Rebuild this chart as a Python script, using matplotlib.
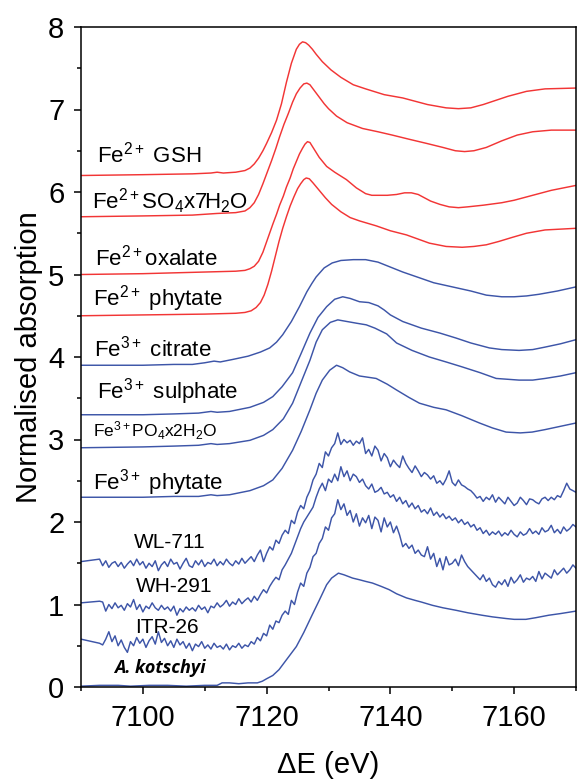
import numpy as np
import matplotlib
matplotlib.use("Agg")
import matplotlib.pyplot as plt
from matplotlib.ticker import MultipleLocator

plt.rcParams['font.family'] = ['Liberation Sans', 'DejaVu Sans']
plt.rcParams['mathtext.fontset'] = 'custom'
plt.rcParams['mathtext.rm'] = 'Liberation Sans'
plt.rcParams['mathtext.it'] = 'Liberation Sans:italic'
plt.rcParams['mathtext.default'] = 'regular'

RED = '#f23535'
BLUE = '#3d55a8'

# ---------------- smooth reference spectra ----------------
gsh_x = [7090, 7100, 7108, 7111, 7112, 7113, 7115, 7116.5, 7117.3, 7118, 7118.7, 7119.4, 7120, 7120.8, 7121.6,
         7122.4, 7123.2, 7124, 7124.8, 7125.3, 7125.8, 7126.3, 7126.8, 7127.4, 7128, 7129, 7130.4, 7132, 7134,
         7136, 7139, 7142, 7146, 7149, 7151, 7153, 7155, 7157, 7159, 7162, 7165, 7170]
gsh_y = [6.20, 6.21, 6.22, 6.23, 6.24, 6.23, 6.24, 6.26, 6.29, 6.34, 6.41, 6.50, 6.59, 6.72, 6.87,
         7.07, 7.33, 7.56, 7.73, 7.79, 7.82, 7.81, 7.78, 7.73, 7.67, 7.58, 7.48, 7.39, 7.30,
         7.25, 7.18, 7.14, 7.06, 7.02, 7.01, 7.02, 7.06, 7.11, 7.16, 7.22, 7.25, 7.26]

so4_x = [7090, 7100, 7108, 7112, 7115, 7116.5, 7117.3, 7118, 7118.7, 7119.4, 7120.1, 7120.8, 7121.5, 7122.1,
         7122.8, 7123.5, 7124.2, 7124.8, 7125.4, 7126, 7126.5, 7127, 7127.6, 7128.5, 7129.3, 7130, 7131.3,
         7133, 7135.5, 7138, 7140.3, 7143, 7145.8, 7148.5, 7150.5, 7152, 7153.5, 7155.5, 7158, 7160.5,
         7163, 7166, 7170]
so4_y = [5.70, 5.71, 5.72, 5.74, 5.75, 5.77, 5.81, 5.87, 5.97, 6.10, 6.24, 6.38, 6.53, 6.67,
         6.82, 6.95, 7.09, 7.19, 7.26, 7.31, 7.32, 7.30, 7.24, 7.15, 7.07, 7.01, 6.92,
         6.84, 6.77, 6.73, 6.69, 6.64, 6.59, 6.54, 6.50, 6.49, 6.50, 6.54, 6.62, 6.69,
         6.73, 6.75, 6.75]

oxa_x = [7090, 7100, 7110, 7115, 7116.5, 7117.3, 7118, 7118.7, 7119.4, 7120.2, 7121, 7121.6, 7122.1, 7122.7,
         7123.2, 7123.8, 7124.3, 7124.8, 7125.3, 7125.8, 7126.2, 7126.6, 7127, 7127.5, 7128.5, 7129.7, 7131,
         7132.9, 7134.5, 7136, 7137, 7138, 7139.5, 7141, 7142.3, 7143.4, 7144.5, 7145.5, 7146.5, 7148,
         7149.5, 7151, 7152.5, 7155, 7158, 7160, 7163, 7166, 7170]
oxa_y = [5.00, 5.01, 5.03, 5.04, 5.05, 5.07, 5.10, 5.16, 5.27, 5.44, 5.61, 5.73, 5.84, 5.95,
         6.06, 6.17, 6.28, 6.37, 6.46, 6.53, 6.58, 6.61, 6.60, 6.54, 6.42, 6.31, 6.24,
         6.15, 6.05, 5.98, 5.96, 5.96, 5.96, 5.97, 5.99, 5.99, 5.97, 5.93, 5.89, 5.85,
         5.82, 5.81, 5.82, 5.84, 5.87, 5.90, 5.96, 6.02, 6.08]

phy2_x = [7090, 7100, 7110, 7115, 7116.5, 7117.5, 7118.3, 7119, 7119.6, 7120.2, 7120.8, 7121.4, 7122, 7122.6,
          7123.2, 7123.8, 7124.4, 7125, 7125.5, 7126, 7126.4, 7126.9, 7127.5, 7128.5, 7129.5, 7130.5, 7132,
          7133.5, 7135, 7137.7, 7140, 7142.6, 7146.3, 7149, 7151.6, 7153.5, 7155.5, 7157.5, 7159.7, 7162,
          7165, 7170]
phy2_y = [4.50, 4.51, 4.52, 4.53, 4.54, 4.56, 4.60, 4.66, 4.75, 4.88, 5.04, 5.22, 5.40, 5.56,
          5.70, 5.83, 5.94, 6.04, 6.10, 6.15, 6.17, 6.16, 6.11, 6.02, 5.93, 5.85, 5.76,
          5.69, 5.65, 5.59, 5.53, 5.48, 5.38, 5.34, 5.33, 5.34, 5.36, 5.40, 5.45, 5.50,
          5.54, 5.56]

cit_x = [7090, 7100, 7105, 7108, 7110, 7111.5, 7112.5, 7114.5, 7117, 7119, 7120.5, 7121.6, 7122.6, 7124,
         7125.3, 7126.5, 7127.3, 7128, 7129.3, 7130.6, 7132, 7134, 7136, 7138, 7140, 7142, 7144.7, 7147,
         7150, 7153, 7155.5, 7158, 7160, 7162, 7164, 7167, 7170]
cit_y = [3.90, 3.90, 3.91, 3.91, 3.93, 3.95, 3.94, 3.97, 4.01, 4.06, 4.11, 4.18, 4.27, 4.43,
         4.61, 4.79, 4.89, 4.97, 5.08, 5.14, 5.17, 5.18, 5.18, 5.15, 5.09, 5.03, 4.96, 4.90,
         4.85, 4.80, 4.75, 4.73, 4.73, 4.74, 4.76, 4.80, 4.85]

sul_x = [7090, 7100, 7105, 7109, 7111, 7112, 7114, 7117.3, 7119.5, 7121, 7122.5, 7124.2, 7125.5, 7127,
         7128.3, 7129.7, 7131, 7132.3, 7133.5, 7135, 7136.5, 7138, 7139, 7140, 7142, 7145, 7148, 7150.6,
         7153, 7156, 7158, 7160.8, 7163, 7165, 7167.5, 7170]
sul_y = [3.30, 3.30, 3.31, 3.32, 3.34, 3.33, 3.34, 3.39, 3.45, 3.52, 3.64, 3.81, 4.03, 4.29,
         4.48, 4.61, 4.70, 4.73, 4.71, 4.67, 4.66, 4.62, 4.57, 4.51, 4.43, 4.35, 4.29, 4.23,
         4.17, 4.11, 4.09, 4.08, 4.09, 4.12, 4.16, 4.21]

po4_x = [7090, 7100, 7105, 7109, 7111, 7112, 7114, 7117.3, 7119.5, 7121, 7122.7, 7124.2, 7125.6, 7127,
         7128, 7129, 7130.3, 7131.5, 7133, 7134.5, 7136.1, 7137.5, 7139.4, 7141, 7143.5, 7146.3, 7149,
         7151.6, 7154.5, 7157.1, 7160.8, 7163, 7165, 7167.5, 7170]
po4_y = [2.90, 2.91, 2.92, 2.93, 2.95, 2.94, 2.95, 2.99, 3.05, 3.12, 3.25, 3.44, 3.70, 3.96,
         4.18, 4.33, 4.42, 4.45, 4.43, 4.41, 4.39, 4.35, 4.28, 4.17, 4.08, 4.00, 3.94,
         3.88, 3.81, 3.74, 3.72, 3.72, 3.74, 3.77, 3.81]

phy3_x = [7090, 7100, 7105, 7109, 7111, 7112, 7114, 7117.3, 7119.5, 7121, 7122.5, 7124.2, 7125.6, 7127,
          7128, 7129, 7130.2, 7131.3, 7132.3, 7133.4, 7135, 7137.7, 7139.5, 7141, 7143, 7144.7, 7147,
          7149, 7151.5, 7154.4, 7156.5, 7158.7, 7161, 7162.9, 7165, 7167.5, 7170]
phy3_y = [2.30, 2.30, 2.31, 2.31, 2.33, 2.32, 2.33, 2.38, 2.44, 2.51, 2.65, 2.87, 3.10, 3.36,
          3.56, 3.72, 3.84, 3.90, 3.87, 3.82, 3.77, 3.74, 3.67, 3.60, 3.51, 3.44, 3.39,
          3.36, 3.29, 3.20, 3.14, 3.09, 3.08, 3.09, 3.12, 3.16, 3.20]

kot_x = [7090, 7093, 7096, 7098, 7101, 7104, 7107, 7110, 7112, 7112.8, 7114, 7115.5, 7117, 7118.5, 7119.3,
         7120, 7121, 7122, 7123, 7124, 7124.8, 7126, 7127.4, 7128.5, 7129.7, 7130.5, 7131.6, 7132.5,
         7133.9, 7135, 7136, 7137.1, 7138.5, 7139.8, 7141, 7142.6, 7144, 7145, 7146.8, 7148.5, 7150.6,
         7152.5, 7154.8, 7156.5, 7158.7, 7160, 7161.9, 7163.5, 7165.6, 7167.5, 7170]
kot_y = [0.01, 0.02, 0.02, 0.01, 0.02, 0.02, 0.01, 0.02, 0.02, 0.05, 0.05, 0.04, 0.05, 0.05, 0.07,
         0.10, 0.14, 0.21, 0.31, 0.41, 0.49, 0.66, 0.88, 1.05, 1.24, 1.32, 1.38, 1.36,
         1.32, 1.30, 1.28, 1.26, 1.22, 1.18, 1.13, 1.08, 1.05, 1.03, 0.99, 0.96, 0.93,
         0.90, 0.87, 0.85, 0.83, 0.82, 0.82, 0.84, 0.87, 0.89, 0.92]

# ---------------- noisy sample spectra (0.5 eV grid from 7093 eV) ----------------
noisy_start = 7093.0
noisy_step = 0.5
wl_first = 1.52
wl_y = [1.55, 1.47, 1.53, 1.45, 1.50, 1.52, 1.46, 1.51, 1.44, 1.49,
        1.53, 1.47, 1.55, 1.48, 1.52, 1.44, 1.50, 1.46, 1.53, 1.41,
        1.48, 1.52, 1.46, 1.55, 1.49, 1.51, 1.43, 1.50, 1.56, 1.47,
        1.45, 1.53, 1.48, 1.54, 1.46, 1.51, 1.49, 1.55, 1.47, 1.52,
        1.48, 1.55, 1.50, 1.47, 1.53, 1.49, 1.56, 1.50, 1.54, 1.58,
        1.52, 1.60, 1.66, 1.52, 1.62, 1.70, 1.66, 1.78, 1.74, 1.84,
        1.90, 1.86, 2.02, 1.98, 2.12, 2.20, 2.16, 2.30, 2.38, 2.51,
        2.58, 2.71, 2.66, 2.85, 2.80, 2.90, 2.95, 3.08, 2.94, 3.00,
        2.96, 2.99, 2.93, 2.98, 2.95, 3.02, 2.83, 2.88, 2.80, 2.92,
        2.87, 2.74, 2.83, 2.78, 2.67, 2.75, 2.70, 2.66, 2.80, 2.71,
        2.65, 2.60, 2.68, 2.62, 2.55, 2.60, 2.57, 2.52, 2.56, 2.47,
        2.50, 2.45, 2.52, 2.62, 2.48, 2.44, 2.51, 2.45, 2.43, 2.40,
        2.38, 2.34, 2.29, 2.31, 2.25, 2.30, 2.27, 2.33, 2.24, 2.30,
        2.26, 2.22, 2.30, 2.25, 2.20, 2.23, 2.30, 2.26, 2.21, 2.28,
        2.27, 2.24, 2.22, 2.28, 2.30, 2.26, 2.30, 2.27, 2.32, 2.30,
        2.38, 2.47, 2.40, 2.38, 2.36]

wh_first = 1.02
wh_y = [1.04, 1.03, 0.92, 1.00, 0.95, 1.02, 0.96, 0.99, 0.93, 1.01,
        0.97, 1.06, 0.94, 1.00, 0.91, 0.98, 0.95, 1.02, 0.96, 0.93,
        0.99, 0.94, 0.97, 0.92, 0.98, 0.87, 0.95, 0.91, 0.97, 0.93,
        0.96, 0.92, 0.99, 0.94, 0.97, 0.90, 0.98, 0.96, 1.02, 0.97,
        1.00, 1.05, 0.98, 1.03, 1.00, 1.07, 1.01, 1.05, 1.08, 1.03,
        1.10, 1.05, 1.12, 1.18, 1.14, 1.22, 1.28, 1.33, 1.30, 1.42,
        1.48, 1.55, 1.62, 1.72, 1.82, 1.92, 2.00, 2.06, 2.12, 2.18,
        2.30, 2.40, 2.47, 2.38, 2.52, 2.48, 2.58, 2.50, 2.67, 2.55,
        2.62, 2.50, 2.58, 2.55, 2.48, 2.52, 2.44, 2.40, 2.46, 2.36,
        2.38, 2.42, 2.34, 2.36, 2.30, 2.33, 2.25, 2.30, 2.22, 2.26,
        2.18, 2.23, 2.16, 2.20, 2.12, 2.15, 2.10, 2.17, 2.08, 2.12,
        2.06, 2.10, 2.04, 2.07, 2.02, 2.05, 1.99, 2.03, 1.97, 2.00,
        1.94, 1.97, 1.90, 1.93, 1.86, 1.90, 1.84, 1.88, 1.85, 1.89,
        1.83, 1.87, 1.84, 1.90, 1.85, 1.82, 1.88, 1.84, 1.86, 1.92,
        1.86, 1.89, 1.85, 1.93, 1.88, 1.90, 1.96, 1.87, 1.91, 1.86,
        1.94, 1.89, 1.92, 1.97, 1.94]

itr_first = 0.58
itr_y = [0.53, 0.51, 0.58, 0.67, 0.55, 0.62, 0.50, 0.57, 0.48, 0.42,
         0.55, 0.50, 0.60, 0.53, 0.58, 0.48, 0.56, 0.61, 0.52, 0.67,
         0.54, 0.59, 0.50, 0.56, 0.48, 0.58, 0.51, 0.55, 0.47, 0.53,
         0.44, 0.52, 0.49, 0.55, 0.47, 0.51, 0.46, 0.53, 0.48, 0.50,
         0.46, 0.52, 0.45, 0.50, 0.48, 0.53, 0.47, 0.51, 0.49, 0.55,
         0.52, 0.60, 0.56, 0.65, 0.62, 0.75, 0.70, 0.80, 0.78, 0.87,
         0.92, 0.88, 1.05, 1.00, 1.15, 1.26, 1.22, 1.38, 1.45, 1.58,
         1.62, 1.74, 1.80, 1.94, 1.90, 2.05, 2.10, 2.27, 2.15, 2.22,
         2.08, 2.14, 2.00, 2.10, 1.95, 2.05, 1.99, 2.08, 1.92, 2.06,
         2.02, 1.88, 2.05, 1.94, 2.00, 1.87, 1.95, 1.84, 1.70, 1.74,
         1.68, 1.72, 1.62, 1.66, 1.60, 1.58, 1.70, 1.55, 1.62, 1.46,
         1.56, 1.42, 1.58, 1.48, 1.50, 1.55, 1.47, 1.60, 1.52, 1.46,
         1.42, 1.38, 1.34, 1.30, 1.36, 1.28, 1.32, 1.24, 1.21, 1.28,
         1.24, 1.30, 1.22, 1.33, 1.26, 1.30, 1.36, 1.27, 1.32, 1.30,
         1.34, 1.28, 1.40, 1.31, 1.38, 1.35, 1.32, 1.42, 1.36, 1.40,
         1.44, 1.38, 1.42, 1.48, 1.44]

fig = plt.figure(figsize=(5.77, 7.84), dpi=100)
ax = fig.add_axes([81/577, 1 - 687/784, 495/577, 660/784])

lw = 1.05
for xs, ys in [(gsh_x, gsh_y), (so4_x, so4_y), (oxa_x, oxa_y), (phy2_x, phy2_y)]:
    ax.plot(xs, ys, color=RED, lw=lw)
for xs, ys in [(cit_x, cit_y), (sul_x, sul_y), (po4_x, po4_y), (phy3_x, phy3_y), (kot_x, kot_y)]:
    ax.plot(xs, ys, color=BLUE, lw=lw)

grid = noisy_start + noisy_step * np.arange(len(wl_y))
for first, ys in [(wl_first, wl_y), (wh_first, wh_y), (itr_first, itr_y)]:
    ax.plot(np.concatenate([[7090], grid]), np.concatenate([[first], ys]), color=BLUE, lw=lw)

ax.set_xlim(7090, 7170)
ax.set_ylim(0, 8)
ax.xaxis.set_major_locator(MultipleLocator(20))
ax.xaxis.set_minor_locator(MultipleLocator(10))
ax.yaxis.set_major_locator(MultipleLocator(1))
ax.yaxis.set_minor_locator(MultipleLocator(0.5))
ax.tick_params(which='both', direction='out', top=False, right=False, width=1.1, labelsize=21)
ax.tick_params(which='major', length=5, pad=7)
ax.tick_params(which='minor', length=3)
for s in ax.spines.values():
    s.set_linewidth(1.1)

ax.set_xlabel('ΔE (eV)', fontsize=21, labelpad=14)
ax.set_ylabel('Normalised absorption', fontsize=21, labelpad=4)

fs = 16
ax.text(7092.6, 6.36, 'Fe$^{2+}$ GSH', fontsize=fs, va='baseline')
ax.text(7091.8, 5.80, 'Fe$^{2+}$SO$_4$x7H$_2$O', fontsize=fs, va='baseline')
ax.text(7092.3, 5.11, 'Fe$^{2+}$oxalate', fontsize=fs, va='baseline')
ax.text(7091.9, 4.63, 'Fe$^{2+}$ phytate', fontsize=fs, va='baseline')
ax.text(7092.1, 4.01, 'Fe$^{3+}$ citrate', fontsize=fs, va='baseline')
ax.text(7092.6, 3.50, 'Fe$^{3+}$ sulphate', fontsize=fs, va='baseline')
ax.text(7091.9, 3.04, 'Fe$^{3+}$PO$_4$x2H$_2$O', fontsize=12.5, va='baseline')
ax.text(7091.9, 2.40, 'Fe$^{3+}$ phytate', fontsize=fs, va='baseline')
ax.text(7098.6, 1.69, 'WL-711', fontsize=15, va='baseline')
ax.text(7098.9, 1.15, 'WH-291', fontsize=15, va='baseline')
ax.text(7098.7, 0.65, 'ITR-26', fontsize=15, va='baseline')
ax.text(7095.3, 0.17, 'A. kotschyi', fontsize=13, va='baseline', family=['Open Sans', 'DejaVu Sans'],
        weight='bold', style='italic')

fig.savefig('out.png', dpi=100)
